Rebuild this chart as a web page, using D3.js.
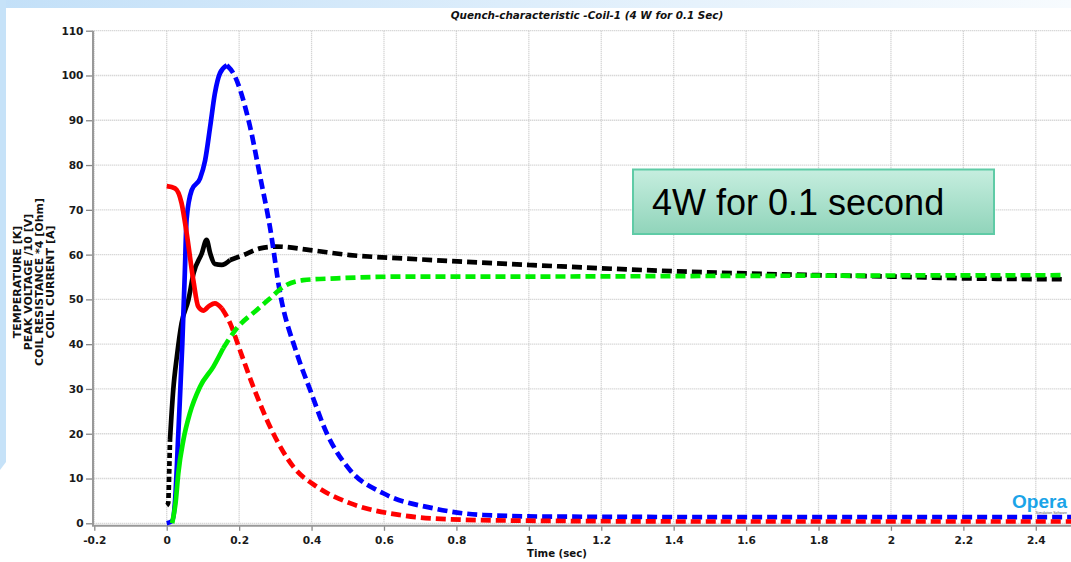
<!DOCTYPE html>
<html>
<head>
<meta charset="utf-8">
<script src="https://cdn.jsdelivr.net/npm/d3@7.9.0/dist/d3.min.js"></script>
<style>
  html, body { margin: 0; padding: 0; background: #fff; }
  svg { display: block; }
  .tick text { font-family: "DejaVu Sans", Verdana, sans-serif; font-weight: bold; font-size: 10.6px; fill: #1a1a1a; }
</style>
</head>
<body>
<svg id="chart" width="1071" height="562"></svg>
<script>
// data: [time (s), value]
const xTicks = [-0.2, 0, 0.2, 0.4, 0.6, 0.8, 1, 1.2, 1.4, 1.6, 1.8, 2, 2.2, 2.4];
const yTicks = [0, 10, 20, 30, 40, 50, 60, 70, 80, 90, 100, 110];
const yLabels = ['TEMPERATURE [K]', 'PEAK VOLTAGE /10 [V]', 'COIL RESISTANCE *4 [Ohm]', 'COIL CURRENT [A]'];

const temperature = [[0, 0], [0.015, 0.5], [0.023, 5], [0.032, 20], [0.043, 40], [0.05, 56], [0.055, 68],
  [0.069, 74.4], [0.092, 77], [0.106, 81], [0.12, 88.6], [0.133, 96], [0.147, 100.5], [0.166, 102.3],
  [0.184, 100.5], [0.23, 88.6], [0.258, 77.4], [0.285, 66.2], [0.313, 51.4], [0.359, 38], [0.396, 29.8],
  [0.442, 20.1], [0.506, 11.9], [0.598, 6.7], [0.736, 3.35], [0.874, 1.85], [1.05, 1.5], [1.5, 1.4], [2.5, 1.4]];
const current = [[0, 75.3], [0.023, 74.8], [0.041, 71.5], [0.055, 64.8], [0.074, 54], [0.087, 48.4],
  [0.101, 47.5], [0.118, 48.6], [0.133, 49.1], [0.152, 48], [0.175, 44.7], [0.202, 38.7], [0.239, 30.5],
  [0.294, 20.1], [0.35, 12.6], [0.414, 8.2], [0.506, 4.5], [0.644, 1.85], [0.782, 0.9], [0.966, 0.6],
  [1.5, 0.4], [2.5, 0.4]];
const voltage = [[0, 4], [0.004, 4.5], [0.007, 12], [0.009, 18.6], [0.018, 29.8], [0.028, 37.2], [0.041, 44.7],
  [0.06, 49.9], [0.074, 55.8], [0.097, 60.3], [0.11, 63.3], [0.12, 60.3], [0.133, 57.9], [0.152, 57.7],
  [0.175, 58.8], [0.212, 59.9], [0.258, 61.4], [0.304, 61.8], [0.396, 61], [0.506, 59.9], [0.663, 59.1],
  [1, 57.7], [1.4, 56.3], [1.8, 55.4], [2, 55.1], [2.2, 54.7], [2.48, 54.5]];
const resistance = [[0.015, 0], [0.025, 5], [0.032, 11.2], [0.046, 18.6], [0.064, 24.6], [0.092, 30.5],
  [0.129, 35], [0.156, 39.1], [0.193, 43.5], [0.248, 47.6], [0.285, 50.2], [0.322, 52.8], [0.377, 54.3],
  [0.469, 54.7], [0.663, 55.1], [1, 55.1], [1.4, 55.2], [1.8, 55.3], [2.48, 55.4]];

// solid part of each curve runs between these times, dashed elsewhere
const series = [
  { data: voltage, color: '#000000', solidFrom: 0.009, solidTo: 0.175 },
  { data: temperature, color: '#0000ff', solidFrom: 0, solidTo: 0.166 },
  { data: current, color: '#ff0000', solidFrom: 0, solidTo: 0.152 },
  { data: resistance, color: '#00ee00', solidFrom: 0, solidTo: 0.156 }
];

const svg = d3.select('#chart');

// slide background bits
const defs = svg.append('defs');
const topGrad = defs.append('linearGradient').attr('id', 'topGrad');
topGrad.append('stop').attr('offset', '0%').attr('stop-color', '#c3e0f8');
topGrad.append('stop').attr('offset', '65%').attr('stop-color', '#e6f2fc');
topGrad.append('stop').attr('offset', '100%').attr('stop-color', '#f7fbfe');
svg.append('rect').attr('x', 0).attr('y', 0).attr('width', 1071).attr('height', 8).attr('fill', 'url(#topGrad)');
svg.append('path').attr('d', 'M0,0 L6,0 L6,462 L0,470 Z').attr('fill', '#c6e2f8');

const x = d3.scaleLinear().domain([-0.2, 2.5]).range([94.3, 1072]);
const y = d3.scaleLinear().domain([0, 110]).range([523.3, 30.7]);

// grid
const grid = svg.append('g').attr('stroke', '#c8c8c8').attr('stroke-width', 1.3).attr('stroke-dasharray', '1,1');
grid.selectAll('.gx').data(xTicks).join('line')
  .attr('x1', d => x(d)).attr('x2', d => x(d)).attr('y1', y(110)).attr('y2', y(0));
grid.selectAll('.gy').data(yTicks).join('line')
  .attr('x1', x(-0.2)).attr('x2', 1071).attr('y1', d => y(d)).attr('y2', d => y(d));

// axes
const yAxis = svg.append('g').attr('transform', 'translate(93,0)')
  .call(d3.axisLeft(y).tickValues(yTicks).tickSize(7).tickPadding(2.5).tickSizeOuter(0));
yAxis.select('.domain').remove();
yAxis.selectAll('.tick line').attr('stroke', '#888').attr('stroke-width', 1.3);

const xAxis = svg.append('g').attr('transform', `translate(0,${y(0) + 2.5})`)
  .call(d3.axisBottom(x).tickValues(xTicks).tickFormat(d => String(d)).tickSize(5).tickPadding(6).tickSizeOuter(0));
xAxis.select('.domain').remove();
xAxis.selectAll('.tick line').attr('stroke', '#888').attr('stroke-width', 1.3);

svg.append('path')
  .attr('d', `M93,${y(110)} L93,${y(0) + 2.5} L1071,${y(0) + 2.5}`)
  .attr('fill', 'none').attr('stroke', '#999').attr('stroke-width', 2);

// curves
const line = d3.line().x(d => x(d[0])).y(d => y(d[1])).curve(d3.curveMonotoneX);
const curves = svg.append('g').attr('fill', 'none').attr('stroke-width', 4.7);
series.forEach(s => {
  const before = s.data.filter(d => d[0] <= s.solidFrom);
  const solid = s.data.filter(d => d[0] >= s.solidFrom && d[0] <= s.solidTo);
  const after = s.data.filter(d => d[0] >= s.solidTo);
  if (before.length > 1) {
    curves.append('path').attr('d', line(before)).attr('stroke', s.color).attr('stroke-dasharray', '5,3');
  }
  curves.append('path').attr('d', line(solid)).attr('stroke', s.color).attr('stroke-linejoin', 'round');
  curves.append('path').attr('d', line(after)).attr('stroke', s.color).attr('stroke-dasharray', '10,5');
});

// titles
svg.append('text').attr('x', 587).attr('y', 19).attr('text-anchor', 'middle')
  .attr('font-family', '"DejaVu Sans", Verdana, sans-serif').attr('font-size', 10.4)
  .attr('font-weight', 'bold').attr('font-style', 'italic').attr('fill', '#111')
  .text('Quench-characteristic -Coil-1 (4 W for 0.1 Sec)');

svg.append('text').attr('x', 557).attr('y', 557).attr('text-anchor', 'middle')
  .attr('font-family', '"DejaVu Sans", Verdana, sans-serif').attr('font-size', 10.2)
  .attr('font-weight', 'bold').attr('fill', '#111').text('Time (sec)');

svg.append('g').selectAll('text').data(yLabels).join('text')
  .attr('transform', (d, i) => `translate(${20.8 + i * 11.1},282) rotate(-90)`)
  .attr('text-anchor', 'middle')
  .attr('font-family', '"DejaVu Sans", Verdana, sans-serif').attr('font-size', 11)
  .attr('font-weight', 'bold').attr('fill', '#111').text(d => d);

// annotation box
const boxGrad = defs.append('linearGradient').attr('id', 'boxGrad').attr('x1', 0).attr('y1', 0).attr('x2', 0).attr('y2', 1);
boxGrad.append('stop').attr('offset', '0%').attr('stop-color', '#c6eedf');
boxGrad.append('stop').attr('offset', '100%').attr('stop-color', '#90d4ba');
svg.append('rect').attr('x', 633).attr('y', 169.5).attr('width', 361).attr('height', 64.5)
  .attr('fill', 'url(#boxGrad)').attr('stroke', '#5fcba6').attr('stroke-width', 2);
svg.append('text').attr('x', 652).attr('y', 215)
  .attr('font-family', '"Liberation Sans", Arial, sans-serif').attr('font-size', 36).attr('fill', '#000')
  .text('4W for 0.1 second');

// logo
svg.append('text').attr('x', 1012).attr('y', 508).attr('textLength', 55).attr('lengthAdjust', 'spacingAndGlyphs')
  .attr('font-family', '"Liberation Sans", Arial, sans-serif').attr('font-size', 19).attr('font-weight', 'bold')
  .attr('fill', '#1ba4e8').text('Opera');
svg.append('text').attr('x', 1067).attr('y', 514).attr('text-anchor', 'end')
  .attr('font-family', '"Liberation Sans", Arial, sans-serif')
  .attr('font-size', 3.5).attr('fill', '#555').text('Simulation Software');
</script>
</body>
</html>
